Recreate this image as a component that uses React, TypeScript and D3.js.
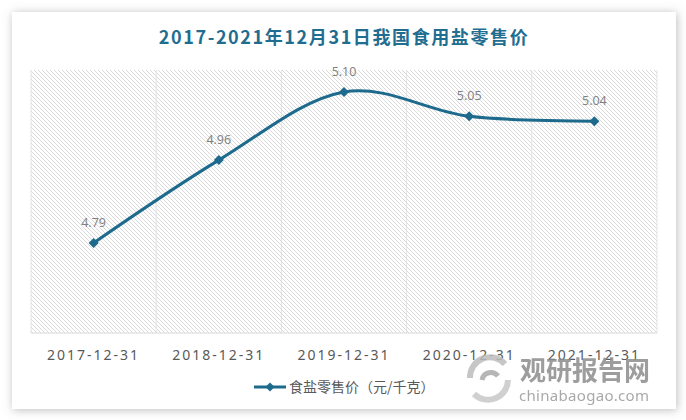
import React from "react";
import * as d3 from "d3";

const categories = ["2017-12-31", "2018-12-31", "2019-12-31", "2020-12-31", "2021-12-31"];
const values = [4.79, 4.96, 5.1, 5.05, 5.04];
const valueLabels = ["4.79", "4.96", "5.10", "5.05", "5.04"];
const seriesName = "食盐零售价（元/千克）";
const title = "2017-2021年12月31日我国食用盐零售价";

const W = 686;
const H = 420;
const plot = { left: 31, right: 657, top: 70, bottom: 333 };
const lineColor = "#1d6a8d";

export default function App() {
  const x = d3.scaleBand().domain(categories).range([plot.left, plot.right]);
  const y = d3.scaleLinear().domain([4.605, 5.145]).range([plot.bottom, plot.top]);
  const cx = (c: string) => (x(c) as number) + x.bandwidth() / 2;
  const pts: [number, number][] = categories.map((c, i) => [cx(c), y(values[i])]);
  const line = d3.line().curve(d3.curveCatmullRom.alpha(0))(pts) as string;
  const gridXs = [...categories.map((c) => x(c) as number), plot.right];
  const diamond = (px: number, py: number, r: number) =>
    `M${px},${py - r}L${px + r},${py}L${px},${py + r}L${px - r},${py}Z`;

  return (
    <svg width={W} height={H} style={{ position: "absolute", left: 0, top: 0 }}>
      <defs>
        <pattern id="hatch" patternUnits="userSpaceOnUse" width={4} height={4}>
          <path d="M-1,-1L5,5M-1,3L1,5M3,-1L5,1" stroke="#d6d6d6" strokeWidth={0.9} />
        </pattern>
        <filter id="shadow" x="-10%" y="-10%" width="120%" height="120%">
          <feDropShadow dx={1} dy={1} stdDeviation={5} floodColor="#777" floodOpacity={0.5} />
        </filter>
      </defs>
      <rect x={0} y={0} width={W} height={H} fill="#ffffff" />
      <rect x={12} y={12} width={664} height={397} fill="#ffffff" filter="url(#shadow)" />
      <text
        x={344}
        y={44}
        textAnchor="middle"
        fontFamily="'Noto Sans CJK SC', sans-serif"
        fontWeight="bold"
        fontSize={18}
        letterSpacing={1.6}
        fill="#1f6d90"
      >
        {title}
      </text>
      <rect x={plot.left} y={plot.top} width={plot.right - plot.left} height={plot.bottom - plot.top} fill="url(#hatch)" />
      {gridXs.map((gx, i) => (
        <line key={i} x1={gx} x2={gx} y1={plot.top} y2={plot.bottom} stroke="#e3e3e3" strokeWidth={1} />
      ))}
      <line x1={plot.left} x2={plot.right} y1={plot.bottom} y2={plot.bottom} stroke="#d9d9d9" strokeWidth={1} />
      <path d={line} fill="none" stroke={lineColor} strokeWidth={3} strokeLinejoin="round" />
      {pts.map(([px, py], i) => (
        <path key={i} d={diamond(px, py, 5)} fill={lineColor} />
      ))}
      {pts.map(([px, py], i) => (
        <text
          key={i}
          x={px}
          y={py - 16}
          textAnchor="middle"
          fontFamily="'Open Sans', 'Noto Sans', sans-serif"
          fontSize={12.5}
          fill="#808080"
        >
          {valueLabels[i]}
        </text>
      ))}
      {categories.map((c) => (
        <text
          key={c}
          x={cx(c)}
          y={360}
          textAnchor="middle"
          fontFamily="'Noto Sans', sans-serif"
          fontSize={14}
          letterSpacing={2}
          fill="#595959"
        >
          {c}
        </text>
      ))}
      {/* watermark */}
      <g opacity={0.85}>
        <path d="M470,378 A20,20 0 0 1 505,364" fill="none" stroke="#bdbdbd" strokeWidth={6} />
        <path d="M508,380 A20,20 0 0 1 474,394" fill="none" stroke="#c8c8c8" strokeWidth={6} />
        <path d="M482,380 A9,9 0 0 1 498,376" fill="none" stroke="#aaaaaa" strokeWidth={5} />
        <text x={520} y={380} fontFamily="'Noto Sans CJK SC', sans-serif" fontWeight="bold" fontSize={26} fill="#8c8c8c">
          观研报告网
        </text>
        <text x={519} y={401} fontFamily="'Noto Sans', sans-serif" fontSize={15} fill="#9a9a9a" letterSpacing={0.3}>
          chinabaogao.com
        </text>
      </g>
      {/* legend */}
      <line x1={254} x2={286} y1={387} y2={387} stroke={lineColor} strokeWidth={3} />
      <path d={diamond(270, 387, 4.5)} fill={lineColor} />
      <text x={289} y={392} fontFamily="'Noto Sans CJK SC', sans-serif" fontSize={14} fill="#595959">
        {seriesName}
      </text>
    </svg>
  );
}
